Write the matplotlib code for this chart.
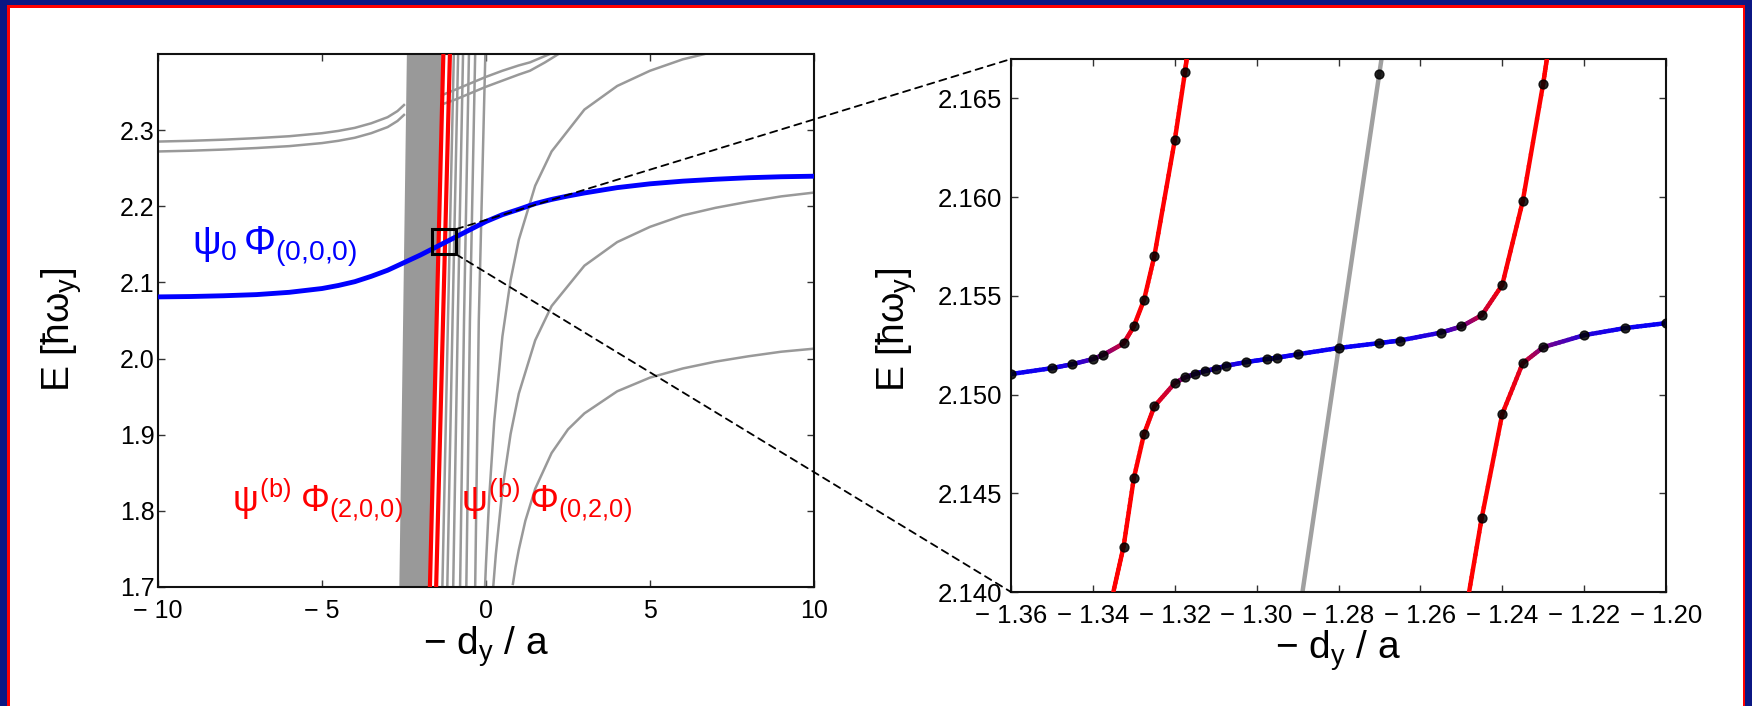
import numpy as np
import matplotlib
matplotlib.use("Agg")
import matplotlib.pyplot as plt
from matplotlib.patches import Rectangle, ConnectionPatch
from matplotlib.collections import LineCollection

plt.rcParams.update({
    "font.family": ["Liberation Sans", "DejaVu Sans"],
    "mathtext.fontset": "custom",
    "mathtext.rm": "Liberation Sans",
    "mathtext.it": "Liberation Sans",
    "mathtext.bf": "Liberation Sans:bold",
    "mathtext.sf": "Liberation Sans",
})

# ---------------- overview panel data ----------------
left_xticks = [-10, -5, 0, 5, 10]
left_xticklabels = ["\u2212 10", "\u2212 5", "0", "5", "10"]
left_yticks = [1.7, 1.8, 1.9, 2.0, 2.1, 2.2, 2.3]
left_yticklabels = ["1.7", "1.8", "1.9", "2.0", "2.1", "2.2", "2.3"]

# dense bundle of nearly vertical levels (x at E = 1.7 and at E = 2.4)
band_E = [1.7, 2.4]
band_x_bottom = [-2.60, -2.56, -2.52, -2.48, -2.44, -2.40, -2.36, -2.32, -2.28, -2.24, -2.20,
                 -2.16, -2.12, -2.08, -2.04, -2.00, -1.96, -1.92, -1.88, -1.84, -1.80, -1.77]
band_x_top = [-2.37, -2.33, -2.29, -2.25, -2.21, -2.17, -2.12, -2.07, -2.02, -1.97, -1.92,
              -1.87, -1.82, -1.77, -1.72, -1.67, -1.62, -1.57, -1.52, -1.47, -1.43, -1.39]

# fan of steep levels to the right of the bound-state lines
fan_E = [1.7, 2.05, 2.4]
fan_x = [
    [-1.33, -1.16, -0.98],
    [-1.18, -1.02, -0.85],
    [-1.00, -0.86, -0.70],
    [-0.79, -0.67, -0.52],
    [-0.60, -0.49, -0.33],
    [-0.33, -0.22, -0.02],
]

# levels bending over towards their asymptotes
curve_a_x = [0.82, 0.9, 1.0, 1.2, 1.5, 2.0, 2.5, 3.0, 4.0, 5.0, 6.0, 7.0, 8.0, 9.0, 10.0]
curve_a_E = [1.704, 1.726, 1.749, 1.787, 1.829, 1.876, 1.907, 1.928, 1.957, 1.975, 1.987,
             1.996, 2.003, 2.009, 2.013]
curve_b_x = [0.22, 0.3, 0.5, 0.75, 1.0, 1.5, 2.0, 3.0, 4.0, 5.0, 6.0, 7.0, 8.0, 9.0, 10.0]
curve_b_E = [1.700, 1.743, 1.828, 1.901, 1.954, 2.024, 2.069, 2.122, 2.153, 2.173, 2.188,
             2.198, 2.206, 2.213, 2.218]
curve_c_x = [-0.03, 0.0, 0.1, 0.25, 0.5, 0.75, 1.0, 1.5, 2.0, 3.0, 4.0, 5.0, 6.0, 7.0]
curve_c_E = [1.700, 1.731, 1.819, 1.917, 2.029, 2.103, 2.156, 2.227, 2.272, 2.327, 2.358,
             2.378, 2.393, 2.4035]

# pair of upper levels, left and right of the bundle
upper_left_x = [-10.0, -9.0, -8.0, -7.0, -6.0, -5.0, -4.5, -4.0, -3.5, -3.0, -2.7, -2.5]
upper_left_E1 = [2.285, 2.286, 2.2875, 2.2895, 2.292, 2.296, 2.299, 2.303, 2.309, 2.317,
                 2.325, 2.333]
upper_left_E2 = [2.272, 2.273, 2.2745, 2.2765, 2.279, 2.283, 2.286, 2.290, 2.296, 2.304,
                 2.312, 2.320]
upper_right_x1 = [-1.4, -1.0, -0.5, 0.0, 0.5, 1.0, 1.34, 2.0]
upper_right_E1 = [2.345, 2.352, 2.361, 2.370, 2.378, 2.385, 2.389, 2.401]
upper_right_x2 = [-1.4, -1.0, -0.5, 0.0, 0.5, 1.0, 1.34, 1.8, 2.25]
upper_right_E2 = [2.333, 2.339, 2.348, 2.357, 2.365, 2.373, 2.378, 2.389, 2.401]

# open-channel level psi_0 Phi_(0,0,0)
blue_x = [-10, -9, -8, -7, -6, -5, -4.5, -4, -3.5, -3, -2.5, -2, -1.5, -1, -0.5, 0, 0.5, 1,
          1.5, 2, 2.5, 3, 4, 5, 6, 7, 8, 9, 10]
blue_E = [2.081, 2.0815, 2.0825, 2.084, 2.087, 2.092, 2.096, 2.101, 2.108, 2.116, 2.126,
          2.136, 2.147, 2.158, 2.169, 2.180, 2.189, 2.196, 2.2035, 2.209, 2.2135, 2.2175,
          2.2245, 2.2295, 2.233, 2.2355, 2.2375, 2.2388, 2.2395]

# bound-state levels psi^(b) Phi_(2,0,0) and psi^(b) Phi_(0,2,0)
red_E = [1.7, 2.4]
red1_x = [-1.71, -1.30]
red2_x = [-1.52, -1.10]

# zoomed window
zoom_xlim = (-1.36, -1.20)
zoom_ylim = (2.140, 2.167)

# ---------------- zoomed panel data ----------------
right_xticks = [-1.36, -1.34, -1.32, -1.30, -1.28, -1.26, -1.24, -1.22, -1.20]
right_xticklabels = ["\u2212 1.36", "\u2212 1.34", "\u2212 1.32", "\u2212 1.30", "\u2212 1.28",
                     "\u2212 1.26", "\u2212 1.24", "\u2212 1.22", "\u2212 1.20"]
right_yticks = [2.140, 2.145, 2.150, 2.155, 2.160, 2.165]
right_yticklabels = ["2.140", "2.145", "2.150", "2.155", "2.160", "2.165"]

br1_x = [-1.36, -1.35, -1.345, -1.34, -1.3375, -1.3325, -1.33, -1.3275, -1.325, -1.32, -1.3175]
br1_E = [2.15104, 2.15134, 2.15154, 2.15180, 2.15201, 2.15259, 2.15345, 2.15480, 2.15700,
         2.16288, 2.16633]
br1_end = (-1.3171, 2.1670)

br2_x = [-1.3325, -1.33, -1.3275, -1.325, -1.32, -1.3175, -1.315, -1.3125, -1.31, -1.3075,
         -1.3025, -1.2975, -1.295, -1.29, -1.28, -1.27, -1.265, -1.255, -1.25, -1.245, -1.24,
         -1.235, -1.23]
br2_E = [2.14230, 2.14576, 2.14801, 2.14940, 2.15058, 2.15087, 2.15105, 2.15120, 2.15131,
         2.15146, 2.15165, 2.15180, 2.15187, 2.15204, 2.15236, 2.15261, 2.15274, 2.15314,
         2.15345, 2.15402, 2.15556, 2.15979, 2.16575]
br2_start = (-1.3350, 2.1400)
br2_end = (-1.2291, 2.1670)

br3_x = [-1.245, -1.24, -1.235, -1.23, -1.22, -1.21, -1.20]
br3_E = [2.14377, 2.14902, 2.15159, 2.15240, 2.15301, 2.15337, 2.15362]
br3_start = (-1.2481, 2.1400)

gray_line_x = [-1.2888, -1.2695]
gray_line_E = [2.1400, 2.1670]
gray_dot_x = [-1.27]
gray_dot_E = [2.16625]

# ---------------- styling ----------------
W, H = 1752, 706
BLUE = "#0000ff"
RED = "#ff0000"
GRAY = "#999999"
NAVY = "#0b1783"
TICK_FS_L, TICK_FS_R = 18, 18.5
LABEL_FS = 28

fig = plt.figure(figsize=(W / 100, H / 100), dpi=100)
fig.patch.set_facecolor(NAVY)
fig.add_artist(Rectangle((7 / W, -0.01), (W - 14) / W, (H - 5) / H + 0.01,
                         transform=fig.transFigure, facecolor=RED, edgecolor="none", zorder=-10))
fig.add_artist(Rectangle((9.5 / W, -0.01), (W - 19) / W, (H - 7.5) / H + 0.01,
                         transform=fig.transFigure, facecolor="white", edgecolor="none", zorder=-9))

ax1 = fig.add_axes([158 / W, 1 - 587 / H, 656 / W, 533 / H])
ax2 = fig.add_axes([1011 / W, 1 - 592 / H, 655 / W, 533 / H])

for ax in (ax1, ax2):
    for sp in ax.spines.values():
        sp.set_linewidth(1.5)
        sp.set_color("#111111")
    ax.tick_params(direction="in", top=True, right=True, length=5, width=1.0, color="#333333")

# ---- overview panel ----
for xb, xt in zip(band_x_bottom, band_x_top):
    ax1.plot([xb, xt], band_E, color=GRAY, lw=2.0, zorder=2)
for xs in fan_x:
    ax1.plot(xs, fan_E, color=GRAY, lw=1.8, zorder=2)
for xs, es in ((curve_a_x, curve_a_E), (curve_b_x, curve_b_E), (curve_c_x, curve_c_E),
               (upper_left_x, upper_left_E1), (upper_left_x, upper_left_E2),
               (upper_right_x1, upper_right_E1), (upper_right_x2, upper_right_E2)):
    ax1.plot(xs, es, color=GRAY, lw=1.8, zorder=2)

ax1.plot(red1_x, red_E, color=RED, lw=3.0, zorder=3, solid_capstyle="butt")
ax1.plot(red2_x, red_E, color=RED, lw=3.0, zorder=3, solid_capstyle="butt")
ax1.plot(blue_x, blue_E, color=BLUE, lw=3.5, zorder=4)

ax1.set_xlim(-10, 10)
ax1.set_ylim(1.7, 2.4)
ax1.set_xticks(left_xticks)
ax1.set_xticklabels(left_xticklabels)
ax1.set_yticks(left_yticks)
ax1.set_yticklabels(left_yticklabels)
ax1.tick_params(axis="both", labelsize=TICK_FS_L)
ax1.tick_params(axis="y", pad=2.5)
ax1.tick_params(axis="x", pad=9)
ax1.set_xlabel("\u2212 d$_\\mathrm{y}$ / a", fontsize=LABEL_FS)
ax1.set_ylabel("E [$\\hbar\\omega_\\mathrm{y}$]", fontsize=LABEL_FS, va="center")
ax1.xaxis.set_label_coords(0.5, -0.070)
ax1.yaxis.set_label_coords(-0.147, 0.482)

ax1.text(-8.95, 2.137, r"$\psi_0\,\Phi_{(0{,}0{,}0)}$", color=BLUE, fontsize=29, ha="left",
         va="baseline", zorder=6)
ax1.text(-7.75, 1.80, r"$\psi^{(b)}\;\Phi_{(2{,}0{,}0)}$", color=RED, fontsize=26, ha="left",
         va="baseline", zorder=6)
ax1.text(-0.75, 1.80, r"$\psi^{(b)}\;\Phi_{(0{,}2{,}0)}$", color=RED, fontsize=26, ha="left",
         va="baseline", zorder=6)

# marker box around the zoomed window
cx = 0.5 * (zoom_xlim[0] + zoom_xlim[1])
cy = 0.5 * (zoom_ylim[0] + zoom_ylim[1])
half_w, half_h = 0.365, 0.0165
ax1.add_patch(Rectangle((cx - half_w, cy - half_h), 2 * half_w, 2 * half_h, fill=False,
                        edgecolor="black", lw=2.2, zorder=7))

# ---- zoomed panel ----
def mixing_weight(slope):
    # steep parts carry the bound-state (red) character, flat parts the open-channel (blue) one
    r = (slope / 0.10) ** 2.5
    return r / (1.0 + r)


def mixed_line(ax, xs, es, nsub=10):
    xs = np.asarray(xs, float)
    es = np.asarray(es, float)
    w_seg = mixing_weight(np.abs(np.diff(es) / np.diff(xs)))
    # colour at each vertex: mean of the neighbouring segments
    w_v = np.empty(len(xs))
    w_v[0], w_v[-1] = w_seg[0], w_seg[-1]
    w_v[1:-1] = 0.5 * (w_seg[:-1] + w_seg[1:])
    segs, cols = [], []
    for i in range(len(xs) - 1):
        t = np.linspace(0.0, 1.0, nsub + 1)
        px = xs[i] + t * (xs[i + 1] - xs[i])
        py = es[i] + t * (es[i + 1] - es[i])
        for k in range(nsub):
            segs.append([(px[k], py[k]), (px[k + 1], py[k + 1])])
            w = w_v[i] + (k + 0.5) / nsub * (w_v[i + 1] - w_v[i])
            cols.append((w, 0.0, 1.0 - w))
    lc = LineCollection(segs, colors=cols, linewidths=3.2, capstyle="round", zorder=3)
    ax.add_collection(lc)


mixed_line(ax2, br1_x + [br1_end[0]], br1_E + [br1_end[1]])
mixed_line(ax2, [br2_start[0]] + br2_x + [br2_end[0]], [br2_start[1]] + br2_E + [br2_end[1]])
mixed_line(ax2, [br3_start[0]] + br3_x, [br3_start[1]] + br3_E)
ax2.plot(gray_line_x, gray_line_E, color="#a0a0a0", lw=3.2, zorder=2)

dot_kw = dict(ls="none", marker="o", ms=6.4, color="black", alpha=0.85, zorder=5)
ax2.plot(br1_x, br1_E, **dot_kw)
ax2.plot(br2_x, br2_E, **dot_kw)
ax2.plot(br3_x, br3_E, **dot_kw)
ax2.plot(gray_dot_x, gray_dot_E, **dot_kw)

ax2.set_xlim(*zoom_xlim)
ax2.set_ylim(*zoom_ylim)
ax2.set_xticks(right_xticks)
ax2.set_xticklabels(right_xticklabels)
ax2.set_yticks(right_yticks)
ax2.set_yticklabels(right_yticklabels)
ax2.tick_params(axis="both", labelsize=TICK_FS_R)
ax2.tick_params(axis="y", pad=6.5)
ax2.tick_params(axis="x", pad=8.5)
ax2.set_xlabel("\u2212 d$_\\mathrm{y}$ / a", fontsize=LABEL_FS)
ax2.set_ylabel("E [$\\hbar\\omega_\\mathrm{y}$]", fontsize=LABEL_FS, va="center")
ax2.xaxis.set_label_coords(0.5, -0.069)
ax2.yaxis.set_label_coords(-0.174, 0.492)

# dashed connectors from the marker box to the zoomed panel
for yA, yB in ((cy + half_h, 1.0), (cy - half_h, 0.0)):
    con = ConnectionPatch(xyA=(cx + half_w, yA), coordsA=ax1.transData,
                          xyB=(0.0, yB), coordsB=ax2.transAxes,
                          color="black", lw=1.3, linestyle=(0, (4, 3)), zorder=8)
    fig.add_artist(con)

fig.savefig("out.png", dpi=100, facecolor=fig.get_facecolor())
